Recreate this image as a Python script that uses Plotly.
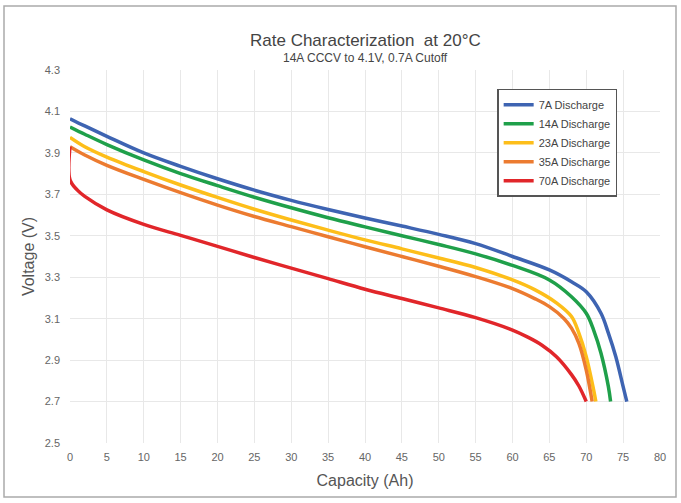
import plotly.graph_objects as go

# Data
names = ["7A Discharge", "14A Discharge", "23A Discharge", "35A Discharge", "70A Discharge"]
colors = ["#3E64B2", "#1FA04A", "#FDBE1A", "#EC7B30", "#E1262A"]

cap_7a = [0, 2, 5, 10, 15, 20, 25, 30, 35, 40, 45, 50, 55, 60, 65, 68, 70, 72, 73, 74, 75, 75.5]
v_7a = [4.065, 4.03, 3.98, 3.90, 3.835, 3.775, 3.72, 3.671, 3.627, 3.586, 3.547, 3.507, 3.462,
        3.40, 3.335, 3.278, 3.23, 3.126, 3.03, 2.917, 2.772, 2.70]

cap_14a = [0, 2, 5, 10, 15, 20, 25, 30, 35, 40, 45, 50, 55, 60, 65, 68, 70, 71, 72, 73, 73.3]
v_14a = [4.025, 3.99, 3.94, 3.866, 3.80, 3.742, 3.686, 3.635, 3.587, 3.543, 3.50, 3.458, 3.413,
         3.357, 3.287, 3.206, 3.126, 3.045, 2.933, 2.772, 2.70]

cap_23a = [0, 2, 5, 10, 15, 20, 25, 30, 35, 40, 45, 50, 55, 60, 63, 66, 68, 69, 70, 71, 71.3]
v_23a = [3.975, 3.93, 3.88, 3.81, 3.745, 3.685, 3.628, 3.576, 3.527, 3.48, 3.437, 3.393, 3.347,
         3.287, 3.24, 3.175, 3.11, 3.03, 2.917, 2.756, 2.70]

cap_35a = [0, 2, 5, 10, 15, 20, 25, 30, 35, 40, 45, 50, 55, 60, 63, 65, 67, 68, 69, 70, 70.8]
v_35a = [3.93, 3.89, 3.84, 3.772, 3.708, 3.648, 3.593, 3.544, 3.495, 3.447, 3.40, 3.353, 3.303,
         3.245, 3.197, 3.158, 3.10, 3.054, 2.981, 2.852, 2.70]

cap_70a = [0, 0, 1, 2, 5, 10, 15, 20, 25, 30, 35, 40, 45, 50, 55, 60, 62, 64, 66, 68, 69, 70]
v_70a = [3.93, 3.77, 3.72, 3.69, 3.625, 3.555, 3.502, 3.449, 3.395, 3.344, 3.293, 3.242, 3.197,
         3.152, 3.105, 3.045, 3.012, 2.972, 2.915, 2.83, 2.775, 2.70]

x_ticks = list(range(0, 81, 5))
y_ticks = [2.5, 2.7, 2.9, 3.1, 3.3, 3.5, 3.7, 3.9, 4.1, 4.3]

series = [(cap_7a, v_7a), (cap_14a, v_14a), (cap_23a, v_23a), (cap_35a, v_35a), (cap_70a, v_70a)]

fig = go.Figure()
for (xs, ys), name, col in zip(series, names, colors):
    fig.add_trace(go.Scatter(x=xs, y=ys, mode="lines", name=name,
                             line=dict(color=col, width=3.5, shape="spline", smoothing=1.0)))

font_family = "Liberation Sans, Arial, sans-serif"
fig.update_layout(
    width=681, height=503,
    margin=dict(l=70, r=21, t=70, b=60),
    paper_bgcolor="white", plot_bgcolor="white",
    font=dict(family=font_family, color="#555555"),
    showlegend=True,
    legend=dict(x=0.724, y=0.95, xanchor="left", yanchor="top",
                bordercolor="#555555", borderwidth=1.5, bgcolor="white",
                font=dict(size=11, color="#444444"), tracegroupgap=0,
                itemwidth=30),
    xaxis=dict(range=[0, 80], tickvals=x_ticks, ticktext=[str(v) for v in x_ticks],
               showgrid=True, gridcolor="#e8e8e8", gridwidth=1, zeroline=False,
               showline=False, ticks="", ticklabelstandoff=6,
               tickfont=dict(size=11, color="#666666"),
               title=dict(text="Capacity (Ah)", font=dict(size=16, color="#555555"), standoff=12)),
    yaxis=dict(range=[2.5, 4.3], tickvals=y_ticks, ticktext=[f"{v:.1f}" for v in y_ticks],
               showgrid=True, gridcolor="#e8e8e8", gridwidth=1, zeroline=False,
               showline=False, ticks="", ticklabelstandoff=9,
               tickfont=dict(size=11, color="#666666"),
               title=dict(text="Voltage (V)", font=dict(size=16, color="#555555"), standoff=6)),
)

fig.add_annotation(text="Rate Characterization  at 20°C", xref="paper", yref="paper",
                   x=0.5, y=1.0, yshift=41, showarrow=False,
                   font=dict(size=17, color="#444444", family=font_family))
fig.add_annotation(text="14A CCCV to 4.1V, 0.7A Cutoff", xref="paper", yref="paper",
                   x=0.5, y=1.0, yshift=21, showarrow=False,
                   font=dict(size=12, color="#444444", family=font_family))

# outer frame
fig.add_shape(type="rect", xref="paper", yref="paper",
              x0=(4 - 70) / 590, x1=(676 - 70) / 590,
              y0=(443 - 497) / 373, y1=(443 - 6) / 373,
              line=dict(color="#aaaaaa", width=1.5), layer="below")

fig.write_html("out.html", config={"displayModeBar": False},
               post_script="document.body.style.margin='0';")
